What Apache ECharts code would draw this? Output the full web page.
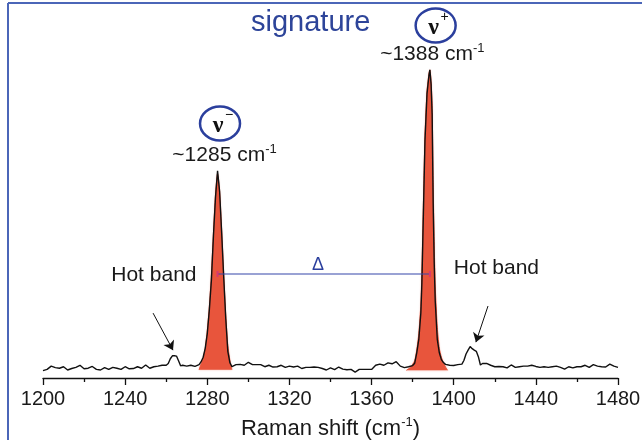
<!DOCTYPE html>
<html><head><meta charset="utf-8">
<script src="https://cdn.jsdelivr.net/npm/echarts@6/dist/echarts.min.js"></script>
<style>html,body{margin:0;padding:0;background:#fff}#c{width:642px;height:440px}</style>
</head><body><div id="c"></div>
<script>
// Raman shift (cm-1) and intensity (baseline 0, strongest peak 100)
const shiftCm = [1200,1202,1204,1206,1208,1210,1212,1214,1216,1218,1220,1222,1224,1226,1228,1230,1232,1234,1236,1238,
  1240,1242,1244,1246,1248,1250,1252,1254,1256,1258,1260,1261,1262,1263,1264,1265,1266,1267,1268,1270,1272,1274,1276,
  1277,1278,1279,1280,1281,1282,1283,1284,1285,1286,1287,1288,1289,1290,1291,1292,1294,1296,1298,1300,1302,1304,1306,
  1308,1310,1312,1314,1316,1318,1320,1322,1324,1326,1328,1330,1332,1334,1336,1338,1340,1342,1344,1346,1348,1350,1352,
  1354,1356,1358,1360,1362,1364,1366,1368,1370,1372,1374,1376,1378,1380,1381,1382,1383,1384,1384.5,1385,1385.5,1386,
  1387,1388,1388.4,1389,1389.5,1390,1390.5,1391,1392,1393,1394,1395,1396,1398,1400,1402,1404,1405,1406,1407,1408,1409,
  1410,1411,1412,1413,1414,1416,1418,1420,1422,1424,1426,1428,1430,1432,1434,1436,1438,1440,1442,1444,1446,1448,1450,
  1452,1454,1456,1458,1460,1462,1464,1466,1468,1470,1472,1474,1476,1478,1480];
const intensity = [-1.5,-1.1,0.0,-0.5,-0.7,-0.2,-1.3,-0.8,-0.4,0.3,-0.9,-0.7,-0.1,-1.1,-1.3,-0.5,-1.1,-0.4,-0.7,-1.1,
  -0.2,-0.9,-0.8,-0.2,-0.7,0.4,-0.7,-0.2,0.0,0.3,0.3,0.9,2.5,3.5,3.5,3.4,1.8,0.1,0.3,0.0,0.3,-0.1,0.5,
  1.5,3,6,11,19,29,44,57,65.9,59,45,30,16,5,1.2,-0.2,0.5,0.6,0.3,1.3,0.5,0.5,0.5,
  -0.2,0.3,-0.3,-0.2,0.3,-0.4,0.0,-0.3,0.0,-0.8,-0.4,-0.4,-0.3,-0.4,-0.8,-1.3,-0.6,-1.2,-0.3,-1.0,-1.2,-1.1,-2.0,
  -1.1,-1.1,-1.1,-1.1,0.3,0.7,0.3,1.1,0.8,1.5,0.0,-0.5,-0.2,0.2,1.0,4.5,9,18,28,44,60,76,
  92,98.5,100,95,85,55,35,22,9,4.5,2.2,1.2,0.6,0.3,0.2,0.5,0.7,2.0,4.1,5.4,6.6,5.9,
  5.4,5.0,3.2,0.4,0.9,0.9,0.3,-0.2,-0.1,-0.2,-0.6,0.4,-0.4,-0.2,0.0,0.0,0.3,-0.1,-0.4,-0.2,-0.4,-0.2,0.0,
  -0.4,-1.0,-0.2,-0.6,-0.2,-0.2,0.3,-0.4,0.5,0.0,-0.2,-0.3,0.7,0.0,-0.4];
// painted fill under the two main peaks
const fillLowX  = [1276,1277,1278,1279,1280,1281,1282,1283,1284,1285,1286,1287,1288,1289,1290,1291,1292];
const fillLowY  = [-1.2,0.8,2.8,6,12,20,31,45,58,65,59,46,31,17,7,2,-1.2];
const fillHighX = [1377,1379,1380,1381,1382,1383,1384,1384.5,1385,1385.5,1386,1387,1388,1388.4,1389,1389.5,1390,1390.5,1391,1392,1393,1394,1395,1396,1397];
const fillHighY = [-1.4,-0.4,0.6,1.8,5.5,11,21,32,48,63,78,93,99,100,96,88,62,42,27,13,6,3,1.2,-0.3,-1.4];
// annotation anchors [shift, intensity]
const peakMinus = [1285, 65.9], peakPlus = [1388.4, 100];
const deltaLevel = 31.1;
const hotBandLabels = [[1254, 30.7], [1420.8, 32.9]];
const hotBandArrows = [[[1253.6, 17.9], [1263.3, 5.4]], [[1416.7, 20.3], [1410.8, 8.1]]];
const xMin = 1200, xMax = 1480, xStep = 40;

const pair = (xs, ys) => xs.map((x, i) => [x, ys[i]]);
const FONT = '"Liberation Sans", Arial, sans-serif';
const BLUE = '#2b3f9d';
const RED = '#e8553c';
const chart = echarts.init(document.getElementById('c'), null, {renderer: 'canvas'});

chart.setOption({
  animation: false,
  title: {text: 'signature', left: 246, top: 3,
    textStyle: {fontFamily: FONT, fontSize: 29, fontWeight: 'normal', color: '#2d4499'}},
  grid: {left: 43, right: 24, top: 58, bottom: 62, outerBoundsMode: 'none', containLabel: false},
  xAxis: {
    type: 'value', min: xMin, max: xMax, interval: xStep,
    axisLine: {onZero: false, lineStyle: {color: '#111', width: 1.3}},
    axisTick: {length: 7, lineStyle: {color: '#111', width: 1.3}},
    minorTick: {show: true, splitNumber: 2, length: 4, lineStyle: {color: '#111', width: 1.3}},
    splitLine: {show: false},
    axisLabel: {fontFamily: FONT, fontSize: 20, color: '#1a1a1a', margin: 11, formatter: v => String(v)},
    name: '{a|Raman shift (cm}{s|-1}{a|)}', nameLocation: 'middle', nameGap: 38,
    nameTextStyle: {rich: {
      a: {fontFamily: FONT, fontSize: 22, color: '#1a1a1a', lineHeight: 26},
      s: {fontFamily: FONT, fontSize: 13, color: '#1a1a1a', verticalAlign: 'top', lineHeight: 26}
    }}
  },
  yAxis: {type: 'value', min: -4, max: 104, show: false},
  series: [
    {type: 'line', data: pair(fillLowX, fillLowY), symbol: 'none', smooth: 0.2, z: 2,
      lineStyle: {width: 1, color: RED}, areaStyle: {color: RED, opacity: 1, origin: -1.2,
      shadowBlur: 2, shadowColor: 'rgba(232,85,60,0.5)'}},
    {type: 'line', data: pair(fillHighX, fillHighY), symbol: 'none', smooth: 0.2, z: 2,
      lineStyle: {width: 1, color: RED}, areaStyle: {color: RED, opacity: 1, origin: -1.4,
      shadowBlur: 2, shadowColor: 'rgba(232,85,60,0.5)'}},
    {type: 'line', data: pair(shiftCm, intensity), symbol: 'none', z: 3,
      lineStyle: {color: '#111', width: 1.4},
      markLine: {silent: true, symbol: ['none', 'arrow'], symbolSize: 9, label: {show: false},
        lineStyle: {color: '#111', width: 1, type: 'solid'},
        data: hotBandArrows.map(a => [{coord: a[0]}, {coord: a[1]}])}},
    {type: 'line', data: [[peakMinus[0], deltaLevel], [peakPlus[0], deltaLevel]], z: 4,
      symbol: 'rect', symbolSize: [2, 6], itemStyle: {color: '#d8386f'},
      lineStyle: {color: '#3447aa', width: 1.2}}
  ]
});

const px = (p) => chart.convertToPixel({gridIndex: 0}, p);
function nuBadge(center, sign) {
  const c = px(center);
  return [
    {type: 'ellipse', shape: {cx: c[0], cy: c[1], rx: 20, ry: 17}, z: 10,
      style: {fill: 'none', stroke: BLUE, lineWidth: 2.5}},
    {type: 'text', x: c[0] - 2, y: c[1] + 2, z: 10,
      style: {text: 'ν', font: 'bold 24px "Liberation Serif", "DejaVu Serif", serif', fill: '#111',
        align: 'center', verticalAlign: 'middle'}},
    {type: 'text', x: c[0] + 9, y: c[1] - 8, z: 10,
      style: {text: sign, font: '14px ' + FONT, fill: '#111', align: 'center', verticalAlign: 'middle'}}
  ];
}
function cmLabel(anchor, value) {
  const c = px(anchor);
  return {type: 'text', x: c[0], y: c[1], z: 10, style: {
    text: '{a|~' + value + ' cm}{s|-1}', align: 'center', verticalAlign: 'middle',
    rich: {a: {font: '21px ' + FONT, fill: '#1a1a1a', lineHeight: 24},
           s: {font: '13px ' + FONT, fill: '#1a1a1a', verticalAlign: 'top', lineHeight: 24}}}};
}
function plainText(anchor, text, color, size) {
  const c = px(anchor);
  return {type: 'text', x: c[0], y: c[1], z: 10, style: {text: text, font: size + 'px ' + FONT,
    fill: color, align: 'center', verticalAlign: 'middle'}};
}
const graphics = [
  {type: 'line', shape: {x1: 8, y1: 3, x2: 642, y2: 3}, style: {stroke: '#4b66b8', lineWidth: 2}},
  {type: 'line', shape: {x1: 8, y1: 3, x2: 8, y2: 440}, style: {stroke: '#4b66b8', lineWidth: 2}},
  ...nuBadge([1286.2, 81.9], '\u2212'),
  ...nuBadge([1391.2, 115], '+'),
  cmLabel([1288.4, 71.2], '1285'),
  cmLabel([1389.6, 105.3], '1388'),
  plainText(hotBandLabels[0], 'Hot band', '#1a1a1a', 21),
  plainText(hotBandLabels[1], 'Hot band', '#1a1a1a', 21),
  plainText([1333.9, 34], '\u0394', BLUE, 18)
];
chart.setOption({graphic: graphics});
</script></body></html>
